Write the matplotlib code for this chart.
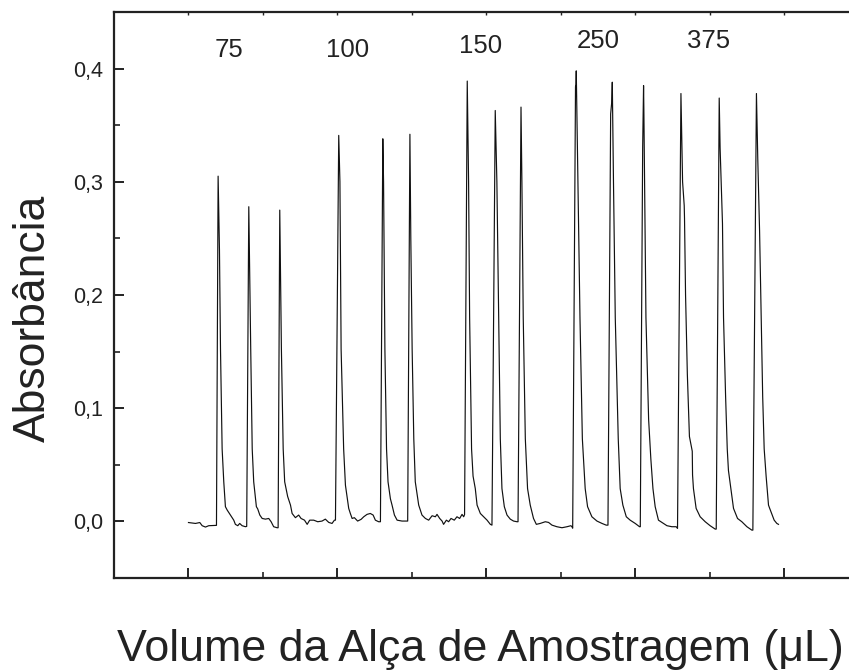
import numpy as np
import matplotlib
matplotlib.use("Agg")
import matplotlib.pyplot as plt
from matplotlib.ticker import MultipleLocator, FuncFormatter

plt.rcParams['font.family'] = ['Liberation Sans', 'DejaVu Sans']

# Signal trace (arbitrary time units, absorbance)
trace_x = [
    0, 4.7, 7.6, 9.2, 11.4, 13.6, 18.1,
    # 75 uL
    18.8, 19.9, 20.8, 21.5, 22.6, 23.7, 24.8, 26.0, 28.2, 30.4, 31.5, 33.1, 34.4, 36.0, 38.3,
    39.1, 40.5, 41.8, 42.8, 43.8, 44.3, 45.6, 46.5, 47.9, 49.5, 51.7, 53.9, 55.5, 57.2, 59.5,
    60.2, 61.3, 62.4, 63.6, 64.6, 66.6, 68.5, 69.6, 71.8, 74.0, 75.6, 77.9, 79.7, 81.4, 84.1,
    86.8, 89.7, 91.9, 94.2, 96.4, 98.0,
    # 100 uL
    98.7, 100.9, 101.7, 102.5, 104.2, 105.4, 107.6, 108.7, 109.9, 111.4, 113.6, 115.9, 117.7,
    119.9, 122.1, 124.0, 125.5, 127.7, 128.9,
    130.5, 131.0, 131.9, 133.0, 134.0, 135.6, 136.7, 138.3, 140.1, 143.4, 146.3,
    147.2, 148.7, 149.3, 150.2, 151.3, 152.3, 154.6, 156.8, 159.1, 161.3, 163.6, 165.8, 166.9,
    168.7, 170.3, 171.3, 173.2, 174.7, 176.3, 178.5, 180.3, 182.1, 183.7, 184.8,
    # 150 uL
    185.4, 187.2, 188.1, 188.8, 190.1, 191.1, 192.6, 193.8, 196.0, 198.2, 200.5, 202.7,
    203.8, 206.0, 207.1, 208.3, 209.4, 210.5, 212.1, 213.9, 216.1, 218.3, 220.6,
    221.3, 223.3, 223.9, 224.8, 226.2, 227.7, 229.5, 231.7, 233.6, 236.2, 239.6, 241.8, 244.1,
    247.4, 250.8, 254.2, 256.8,
    # 250 uL
    257.5, 258.0, 259.9, 260.2, 260.4, 261.5, 262.9, 264.5, 266.4, 268.0, 270.9, 274.3, 277.7, 280.5,
    281.7, 283.5, 284.2, 284.6, 285.4, 286.6, 288.6, 289.9, 291.7, 294.0, 296.6, 300.0, 302.9,
    303.4, 305.0, 305.6, 305.8, 306.3, 307.2, 309.0, 310.1, 310.5, 311.9, 313.4, 315.6, 317.9,
    321.3, 324.6, 327.5,
    # 375 uL
    328.4, 330.7, 331.8, 332.9, 333.1, 333.8, 335.0, 336.4, 338.3, 338.5, 339.1, 340.9, 343.6,
    347.0, 350.3, 353.7,
    354.4, 356.4, 357.0, 358.4, 358.6, 359.3, 360.7, 361.8, 362.6, 364.2, 366.0, 368.7, 371.6,
    375.0, 378.3,
    379.0, 381.4, 382.3, 383.3, 383.5, 384.6, 385.6, 386.6, 387.9, 389.5, 390.3, 393.3, 395.1, 396.2,
]
trace_y = [
    -0.001, -0.0018, -0.001, -0.0038, -0.005, -0.0038, -0.0035,
    -0.0035, 0.305, 0.240, 0.152, 0.064, 0.035, 0.013, 0.010, 0.0056, 0.0011, -0.0026, -0.0038, -0.0018, -0.0038, -0.0047,
    -0.0044, 0.278, 0.152, 0.064, 0.035, 0.029, 0.013, 0.011, 0.0056, 0.0026, 0.0020, 0.0026, -0.0003, -0.0047, -0.0056,
    -0.0056, 0.275, 0.152, 0.064, 0.035, 0.022, 0.0144, 0.007, 0.0033, 0.0056, 0.0026, 0.0011, -0.0026, 0.0011, 0.0011,
    -0.0003, 0.0003, 0.0020, -0.0009, -0.0018, 0.0011,
    0.0011, 0.341, 0.30, 0.152, 0.064, 0.032, 0.0115, 0.007, 0.0026, 0.0033, 0.0003, 0.0018, 0.0041,
    0.0062, 0.007, 0.0056, 0.0011, -0.0003, -0.0003,
    0.338, 0.30, 0.152, 0.064, 0.035, 0.020, 0.0144, 0.0056, 0.0011, 0.0003, 0.0003,
    0.0003, 0.342, 0.25, 0.152, 0.073, 0.035, 0.0144, 0.0056, 0.0026, 0.0011, 0.0050, 0.0041, 0.0062,
    0.0026, 0.0003, -0.0026, 0.0011, -0.0003, 0.0026, 0.0011, 0.0041, 0.0026, 0.0062, 0.0041,
    0.006, 0.389, 0.30, 0.18, 0.064, 0.04, 0.029, 0.0144, 0.007, 0.0041, 0.0011, -0.0026,
    -0.0033, 0.363, 0.30, 0.18, 0.073, 0.029, 0.013, 0.0056, 0.0020, 0.0003, -0.0003,
    -0.0003, 0.366, 0.30, 0.18, 0.073, 0.029, 0.0144, 0.0026, -0.0026, -0.0018, -0.0003, -0.0009, -0.0033,
    -0.0047, -0.0056, -0.0047, -0.0038,
    -0.0047, -0.006, 0.384, 0.386, 0.398, 0.30, 0.18, 0.073, 0.029, 0.013, 0.0041, 0.0003, -0.0018, -0.0033,
    -0.0033, 0.36, 0.37, 0.388, 0.30, 0.18, 0.073, 0.029, 0.0144, 0.0041, 0.0011, -0.0018, -0.0047,
    -0.0047, 0.33, 0.385, 0.364, 0.30, 0.18, 0.09, 0.064, 0.055, 0.029, 0.013, 0.0011, -0.0009,
    -0.0038, -0.0047, -0.0047,
    -0.0062, 0.378, 0.30, 0.279, 0.268, 0.20, 0.13, 0.075, 0.062, 0.041, 0.029, 0.0115, 0.0041,
    -0.0003, -0.0038, -0.0068,
    -0.0068, 0.374, 0.33, 0.273, 0.263, 0.18, 0.11, 0.064, 0.045, 0.029, 0.0115, 0.0026, -0.0003,
    -0.0047, -0.0077,
    -0.0077, 0.378, 0.32, 0.266, 0.257, 0.18, 0.11, 0.064, 0.04, 0.0144, 0.0115, 0.0011, -0.0018, -0.0026,
]

# Loop volume annotations
vol_labels = ["75", "100", "150", "250", "375"]
vol_x = [27.5, 107, 196, 275, 349]
vol_y = [0.416, 0.416, 0.420, 0.424, 0.424]

fig = plt.figure(figsize=(8.49, 6.71), dpi=100)
ax = fig.add_axes([0.1343, 0.1386, 0.877, 0.8435])

ax.plot(trace_x, trace_y, color='#111111', lw=0.85)

for lab, xx, yy in zip(vol_labels, vol_x, vol_y):
    ax.text(xx, yy, lab, ha='center', va='center', fontsize=18.5, color='#222222')

ax.set_xlim(-50, 450)
ax.set_ylim(-0.05, 0.45)

ax.xaxis.set_major_locator(MultipleLocator(100))
ax.xaxis.set_minor_locator(MultipleLocator(50))
ax.yaxis.set_major_locator(MultipleLocator(0.1))
ax.yaxis.set_minor_locator(MultipleLocator(0.05))
ax.yaxis.set_major_formatter(FuncFormatter(lambda v, p: f"{v:.1f}".replace(".", ",")))

ax.tick_params(which='major', direction='in', length=7.5, width=1.4, labelsize=15.5,
               colors='#222222', pad=8, labelbottom=False)
ax.tick_params(which='minor', direction='in', length=4, width=1.2, colors='#222222')
ax.tick_params(right=False, top=False, which='both')

for side in ['left', 'bottom', 'top']:
    ax.spines[side].set_linewidth(1.6)
    ax.spines[side].set_color('#222222')
ax.spines['right'].set_visible(False)

# small ticks along the top edge
sec = ax.secondary_xaxis('top')
sec.set_xticks(np.arange(0, 401, 50))
sec.tick_params(direction='in', length=2.5, width=1.0, labeltop=False, colors='#222222')
sec.spines['top'].set_linewidth(1.4)
sec.spines['top'].set_color('#222222')

fig.text(33 / 849, 1 - 318 / 671, "Absorbância", rotation=90, ha='center', va='center',
         fontsize=32, color='#222222')
fig.text(117 / 849, 1 - 650 / 671, "Volume da Alça de Amostragem (μL)", ha='left',
         va='center', fontsize=32.2, color='#222222')

fig.savefig("out.png", dpi=100)
